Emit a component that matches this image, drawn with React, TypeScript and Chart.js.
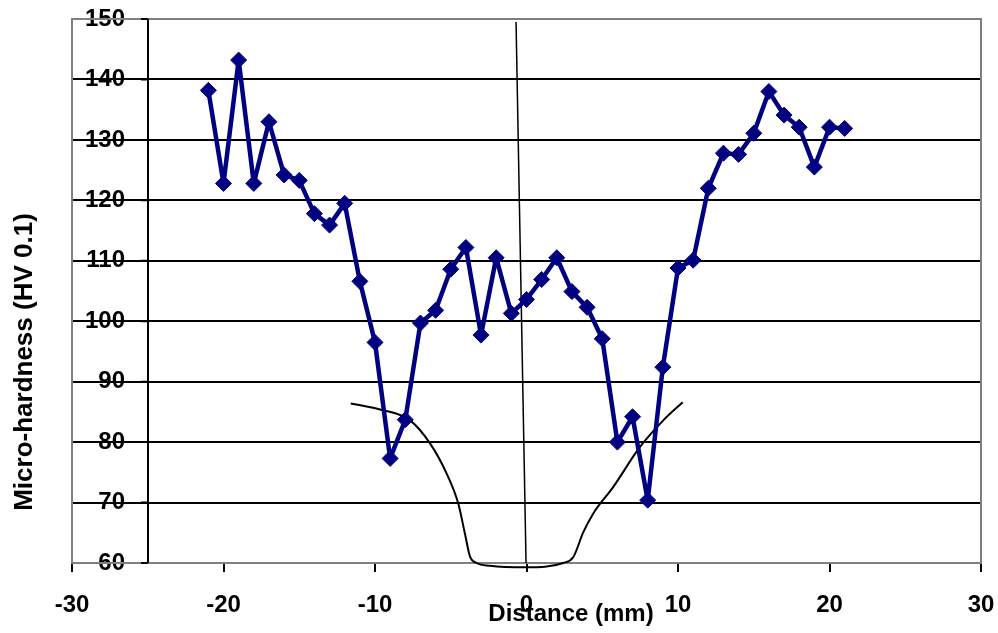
import React, { useEffect, useRef } from "react";
import { Chart, registerables } from "chart.js";

Chart.register(...registerables);

// ---- data ----
const distances = [
  -21, -20, -19, -18, -17, -16, -15, -14, -13, -12, -11, -10, -9, -8, -7, -6, -5, -4, -3, -2, -1,
  0, 1, 2, 3, 4, 5, 6, 7, 8, 9, 10, 11, 12, 13, 14, 15, 16, 17, 18, 19, 20, 21,
];
const hardness = [
  138.2, 122.8, 143.2, 122.8, 133.0, 124.2, 123.3, 117.8, 115.9, 119.5, 106.6, 96.5, 77.3, 83.7,
  99.7, 101.8, 108.6, 112.2, 97.7, 110.5, 101.3, 103.6, 106.9, 110.5, 104.9, 102.3, 97.1, 80.0,
  84.2, 70.4, 92.4, 108.8, 110.1, 122.0, 127.8, 127.6, 131.1, 138.0, 134.1, 132.1, 125.5, 132.1,
  131.9,
];

// hand-drawn weld profile sketch
const profileX = [
  -11.6, -9.67, -7.69, -6.37, -5.27, -4.5, -4.06, -3.73, -3.29, -2.41, 0.01, 2.43, 3.09, 3.75,
  4.41, 5.73, 7.49, 9.03, 10.31,
];
const profileY = [
  86.4, 85.4, 83.6, 79.8, 74.8, 69.8, 64.8, 61.1, 60.0, 59.55, 59.3, 60.0, 61.0, 65.1, 68.2, 72.6,
  79.2, 83.6, 86.6,
];

// thin centre line
const centerLineX = [-0.69, -0.03];
const centerLineY = [149.5, 60];

const X_MIN = -30;
const X_MAX = 30;
const X_STEP = 10;
const Y_MIN = 60;
const Y_MAX = 150;
const Y_STEP = 10;
const Y_AXIS_CROSS = -25;

const xTitle = "Distance (mm)";
const yTitle = "Micro-hardness (HV 0.1)";

const FONT = '"Liberation Sans", Arial, sans-serif';

if (typeof document !== "undefined") {
  document.body.style.margin = "0";
}

const decorPlugin = {
  id: "decor",
  beforeDatasetsDraw(chart: any) {
    const { ctx, chartArea: a, scales } = chart;
    const x = scales.x;
    const y = scales.y;
    ctx.save();
    ctx.strokeStyle = "#808080";
    ctx.lineWidth = 2;
    ctx.strokeRect(a.left, a.top, a.right - a.left, a.bottom - a.top);
    const px = Math.round(x.getPixelForValue(Y_AXIS_CROSS));
    ctx.strokeStyle = "#000000";
    ctx.lineWidth = 2;
    ctx.beginPath();
    ctx.moveTo(px, a.top);
    ctx.lineTo(px, a.bottom);
    y.ticks.forEach((t: any) => {
      const py = y.getPixelForValue(t.value);
      ctx.moveTo(px - 7, py);
      ctx.lineTo(px, py);
    });
    ctx.stroke();
    ctx.restore();
  },
  afterDraw(chart: any) {
    const { ctx } = chart;
    ctx.save();
    ctx.fillStyle = "#000000";
    ctx.textAlign = "center";
    ctx.textBaseline = "middle";
    ctx.font = `bold 24px ${FONT}`;
    ctx.fillText(xTitle, 571, 614);
    ctx.translate(25, 362);
    ctx.rotate(-Math.PI / 2);
    ctx.font = `bold 26px ${FONT}`;
    ctx.fillText(yTitle, 0, 0);
    ctx.restore();
  },
};

export default function App() {
  const ref = useRef<HTMLCanvasElement | null>(null);

  useEffect(() => {
    if (!ref.current) return;
    const mainData = distances.map((d, i) => ({ x: d, y: hardness[i] }));
    const profileData = profileX.map((d, i) => ({ x: d, y: profileY[i] }));
    const centerData = centerLineX.map((d, i) => ({ x: d, y: centerLineY[i] }));

    const chart = new Chart(ref.current, {
      type: "line",
      data: {
        datasets: [
          {
            label: "Micro-hardness",
            data: mainData,
            borderColor: "#000080",
            backgroundColor: "#000080",
            borderWidth: 4.5,
            borderJoinStyle: "round",
            pointStyle: "rectRot",
            pointRadius: 8,
            pointBorderWidth: 1,
            pointBackgroundColor: "#000080",
            pointBorderColor: "#000080",
            tension: 0,
            order: 1,
          },
          {
            label: "profile",
            data: profileData,
            borderColor: "#000000",
            borderWidth: 2,
            pointRadius: 0,
            cubicInterpolationMode: "monotone",
            clip: false as any,
            order: 2,
          },
          {
            label: "centre",
            data: centerData,
            borderColor: "#000000",
            borderWidth: 1.5,
            pointRadius: 0,
            clip: false as any,
            order: 2,
          },
        ],
      },
      options: {
        animation: false,
        responsive: true,
        maintainAspectRatio: false,
        layout: { padding: { top: 19, right: 17, left: 0, bottom: 0 } },
        plugins: {
          legend: { display: false },
          tooltip: { enabled: false },
        },
        scales: {
          x: {
            type: "linear",
            min: X_MIN,
            max: X_MAX,
            border: { display: false },
            grid: {
              drawOnChartArea: false,
              drawTicks: true,
              tickLength: 9,
              color: "#000000",
              lineWidth: 2,
            },
            ticks: {
              stepSize: X_STEP,
              color: "#000000",
              padding: 21,
              font: { family: FONT, size: 24, weight: "bold", lineHeight: 1 },
            },
            afterFit: (s: any) => {
              s.height = 70;
              s.paddingLeft = 0;
              s.paddingRight = 0;
              s.paddingTop = 0;
              s.paddingBottom = 0;
            },
          },
          y: {
            type: "linear",
            min: Y_MIN,
            max: Y_MAX,
            border: { display: false },
            grid: {
              drawTicks: false,
              lineWidth: 2,
              color: (c: any) =>
                c.tick && (c.tick.value === Y_MIN || c.tick.value === Y_MAX)
                  ? "rgba(0,0,0,0)"
                  : "#000000",
            },
            ticks: {
              stepSize: Y_STEP,
              mirror: true,
              crossAlign: "far",
              padding: 13,
              color: "#000000",
              font: { family: FONT, size: 24, weight: "bold", lineHeight: 1 },
            },
            afterFit: (s: any) => {
              s.width = 72;
              s.paddingLeft = 0;
              s.paddingRight = 0;
              s.paddingTop = 0;
              s.paddingBottom = 0;
            },
          },
        },
      },
      plugins: [decorPlugin],
    });
    return () => chart.destroy();
  }, []);

  return (
    <div style={{ position: "relative", width: "998px", height: "633px", overflow: "hidden" }}>
      <canvas ref={ref} />
    </div>
  );
}
